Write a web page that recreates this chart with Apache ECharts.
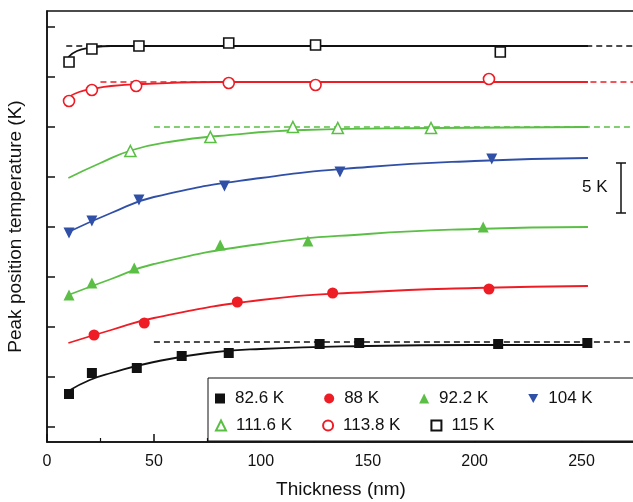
<!DOCTYPE html>
<html><head><meta charset="utf-8">
<script src="https://cdn.jsdelivr.net/npm/echarts@6/dist/echarts.min.js"></script>
<style>html,body{margin:0;padding:0;background:#fff}#c{width:633px;height:502px}</style>
</head><body><div id="c"></div>
<script>
// measured points: [thickness nm, offset temperature K]
var s826 = [[10.3,4.8],[21,6.9],[42,7.4],[63,8.6],[85,8.9],[127.5,9.8],[146,9.9],[211,9.8],[252.7,9.9]]
var s88 = [[22,10.7],[45.5,11.9],[89,14.0],[133.6,14.9],[206.7,15.3]]
var s922 = [[10.3,14.7],[21,15.9],[40.8,17.4],[81,19.7],[122,20.1],[204,21.5]]
var s104 = [[10.3,20.9],[21,22.1],[43,24.2],[83,25.6],[137,27.0],[208,28.3]]
var s1116 = [[39,29.1],[76.4,30.5],[115,31.5],[136,31.4],[179.6,31.4]]
var s1138 = [[10.3,34.1],[21,35.2],[41.7,35.6],[85,35.9],[125.6,35.7],[206.7,36.3]]
var s115 = [[10.3,38.0],[21,39.3],[43,39.6],[85,39.9],[125.6,39.7],[212,39.0]]
// fit curves
var f826 = [[10,5.1],[20,6.2],[30,6.9],[50,8.0],[75,8.9],[100,9.3],[150,9.6],[200,9.7],[253,9.7]]
var f88 = [[10,9.9],[30,11.2],[50,12.4],[100,14.2],[150,15.0],[200,15.4],[253,15.6]]
var f922 = [[10,14.7],[30,16.3],[50,17.8],[100,19.8],[150,20.8],[200,21.3],[253,21.5]]
var f104 = [[10,21.0],[30,22.9],[50,24.5],[100,26.4],[150,27.5],[200,28.1],[253,28.4]]
var f1116 = [[10,26.4],[25,27.9],[40,29.2],[60,30.1],[80,30.6],[120,31.2],[180,31.4],[253,31.5]]
var f1138 = [[10,34.5],[15,35.0],[21,35.3],[30,35.6],[45,35.8],[80,36.0],[253,36.0]]
var f115 = [[10,38.5],[14,39.1],[20,39.4],[30,39.6],[50,39.6],[253,39.6]]
var dash826 = [[50,10.0],[275,10.0]]
var dash1116 = [[50,31.5],[275,31.5]]
var dash1138 = [[25,36.0],[275,36.0]]
var dash115 = [[9,39.6],[275,39.6]]
var yTicks = [1.5,6.5,11.5,16.5,21.5,26.5,31.5,36.5,41.5]

var RED='#ee1c25', GRN='#5bbf45', BLU='#3050a8', BLK='#111'
var down='path://M0,0L10,0L5,9Z'
function pts(name,data,sym,color,empty){
  return {name:name,type:'scatter',data:data,symbolSize:sym=='rect'?10:11,symbol:sym,
    itemStyle:empty?{color:'#fff',borderColor:color,borderWidth:1.6,opacity:1}:{color:color,opacity:1},z:5}
}
function fit(data,color){return {type:'line',data:data,smooth:true,symbol:'none',lineStyle:{color:color,width:1.8},silent:true}}
function dash(data,color){return {type:'line',data:data,symbol:'none',lineStyle:{color:color,width:1.3,type:[6,4]},silent:true}}

var chart = echarts.init(document.getElementById('c'))
var lg = {textStyle:{fontSize:17,color:'#111',fontFamily:'Liberation Sans',padding:[0,0,0,5]},itemWidth:10,itemHeight:10,orient:'horizontal'}
chart.setOption({
  animation:false,
  textStyle:{fontFamily:'Liberation Sans'},
  grid:{left:47,top:11,right:-2,bottom:60,show:true,borderColor:'#111',borderWidth:1.5,outerBoundsMode:'none',containLabel:false},
  xAxis:{type:'value',min:0,max:275,interval:50,name:'Thickness (nm)',nameLocation:'middle',nameGap:38,
    nameTextStyle:{fontSize:19,color:'#111'},
    axisLine:{lineStyle:{color:'#111',width:1.5}},axisTick:{inside:true,length:8,lineStyle:{width:1.5}},
    minorTick:{show:true,splitNumber:2,length:4,lineStyle:{color:'#111',width:1.2}},
    axisLabel:{fontSize:16,color:'#111',showMaxLabel:false,margin:12},splitLine:{show:false}},
  yAxis:{type:'value',min:0,max:43.1,name:'Peak position temperature (K)',nameLocation:'middle',nameGap:22,
    nameTextStyle:{fontSize:19,color:'#111'},
    axisLine:{lineStyle:{color:'#111',width:1.5}},axisTick:{inside:true,length:8,customValues:yTicks,lineStyle:{width:1.5}},
    axisLabel:{show:false},splitLine:{show:false}},
  legend:[
    Object.assign({left:210,top:385,itemGap:40,data:[{name:'82.6 K',icon:'rect'},{name:'88 K',icon:'circle'},{name:'92.2 K',icon:'triangle'},{name:'104 K',icon:down}]},lg),
    Object.assign({left:210,top:412,itemGap:30,data:[{name:'111.6 K',icon:'triangle'},{name:'113.8 K',icon:'circle'},{name:'115 K',icon:'rect'}]},lg)
  ],
  graphic:[
    {type:'rect',shape:{x:208,y:378,width:430,height:63},style:{fill:'#fff',stroke:'#111',lineWidth:1},z:1},
    {type:'line',shape:{x1:621,y1:163,x2:621,y2:213},style:{stroke:'#111',lineWidth:1.5}},
    {type:'line',shape:{x1:616,y1:163,x2:626,y2:163},style:{stroke:'#111',lineWidth:1.5}},
    {type:'line',shape:{x1:616,y1:213,x2:626,y2:213},style:{stroke:'#111',lineWidth:1.5}},
    {type:'text',x:582,y:179,style:{text:'5 K',fontSize:17,fill:'#111',fontFamily:'Liberation Sans'}}
  ],
  series:[
    dash(dash826,BLK),dash(dash1116,GRN),dash(dash1138,RED),dash(dash115,BLK),
    fit(f826,BLK),fit(f88,RED),fit(f922,GRN),fit(f104,BLU),fit(f1116,GRN),fit(f1138,RED),fit(f115,BLK),
    pts('82.6 K',s826,'rect',BLK),pts('88 K',s88,'circle',RED),pts('92.2 K',s922,'triangle',GRN),
    pts('104 K',s104,down,BLU),pts('111.6 K',s1116,'triangle',GRN,true),pts('113.8 K',s1138,'circle',RED,true),
    pts('115 K',s115,'rect',BLK,true)
  ]
})
</script></body></html>
